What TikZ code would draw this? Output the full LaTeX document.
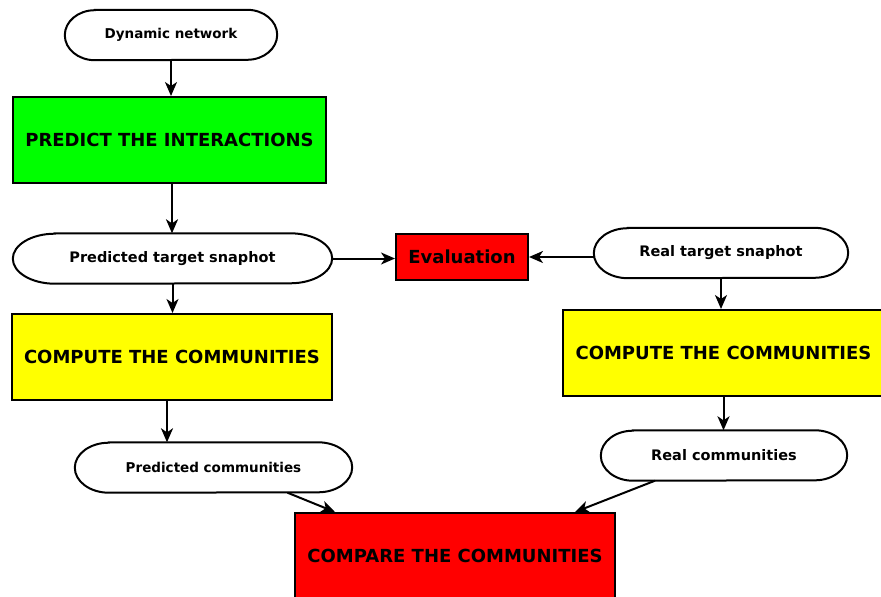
\documentclass[tikz,border=0pt]{standalone}
\usepackage{fontspec}
\setmainfont{DejaVu Sans}
\usetikzlibrary{arrows.meta,calc}
\definecolor{boxgreen}{RGB}{0,255,0}
\definecolor{boxyellow}{RGB}{255,255,0}
\definecolor{boxred}{RGB}{255,0,0}
\newcommand\pillpath[2]{%
  \draw[line width=2pt] ($(#1.north west)+(#2,0)$) -- ($(#1.north east)+(-#2,0)$)
    arc[start angle=90,end angle=-90,x radius=#2,y radius=25]
    -- ($(#1.south west)+(#2,0)$)
    arc[start angle=270,end angle=90,x radius=#2,y radius=25] -- cycle;}
\begin{document}
\begin{tikzpicture}[x=1pt,y=1pt,
  box/.style={draw=black,line width=2pt,inner sep=0pt,minimum height=86pt,
    font=\fontsize{18}{20}\selectfont\bfseries},
  pill/.style={inner sep=0pt,minimum height=50pt,
    font=\fontsize{13.5}{16}\selectfont\bfseries},
  bigger/.style={font=\fontsize{14.5}{16}\selectfont\bfseries},
  arr/.style={line width=2pt,-{Stealth[length=14pt,width=12pt,inset=4pt]}},
]
\clip (0,-597) rectangle (881,0);
\fill[white] (0,-597) rectangle (881,0);

\node[pill,minimum width=212pt] (dn) at (171,-35) {Dynamic network};
\node[box,fill=boxgreen,minimum width=313pt] (pi) at (169.5,-140) {PREDICT THE INTERACTIONS};
\node[pill,bigger,minimum width=319pt] (pts) at (172.5,-258.5) {Predicted target snaphot};
\node[box,fill=boxred,minimum width=132pt,minimum height=46pt] (ev) at (462,-257) {Evaluation};
\node[pill,bigger,minimum width=254pt] (rts) at (721,-253) {Real target snaphot};
\node[box,fill=boxyellow,minimum width=320pt] (yl) at (172,-357) {COMPUTE THE COMMUNITIES};
\node[box,fill=boxyellow,minimum width=321pt] (yr) at (723.5,-353) {COMPUTE THE COMMUNITIES};
\node[pill,minimum width=277pt] (pc) at (213.5,-467.5) {Predicted communities};
\node[pill,bigger,minimum width=246pt] (rc) at (724,-455.5) {Real communities};
\node[box,fill=boxred,minimum width=320pt] (cmp) at (455,-556) {COMPARE THE COMMUNITIES};

\pillpath{dn}{30}
\pillpath{pts}{42}
\pillpath{rts}{34}
\pillpath{pc}{34}
\pillpath{rc}{32}

\draw[arr] (dn.south) -- (dn.south |- pi.north);
\draw[arr] ($(pi.south)+(2.5,0)$) coordinate (t0) -- (t0 |- pts.north);
\draw[arr] (pts.east) -- (ev.west |- pts.east);
\draw[arr] (rts.west |- ev.east) -- (ev.east);
\draw[arr] (pts.south) -- (pts.south |- yl.north);
\draw[arr] (rts.south) -- (rts.south |- yr.north);
\draw[arr] ($(yl.south)+(-5,0)$) coordinate (t1) -- (t1 |- pc.north);
\draw[arr] (yr.south) -- (yr.south |- rc.north);
\draw[arr] ($(pc.south)+(74,0)$) -- ($(cmp.north)+(-120,0)$);
\draw[arr] ($(rc.south)+(-69,0)$) -- ($(cmp.north)+(120,0)$);
\end{tikzpicture}
\end{document}
